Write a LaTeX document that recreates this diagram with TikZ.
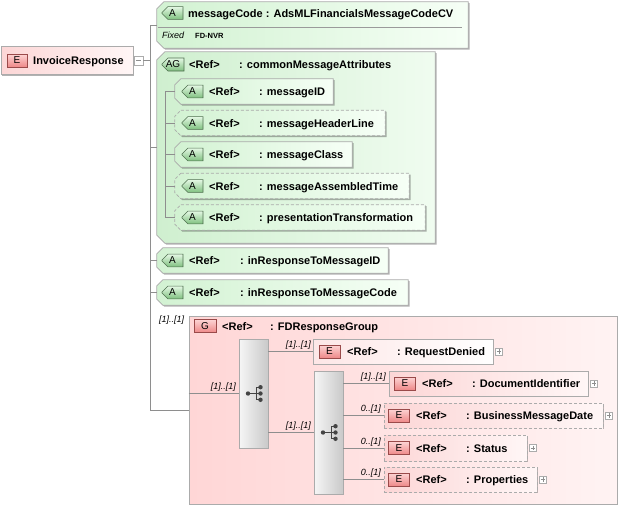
\documentclass[tikz,border=0pt]{standalone}
\usepackage{fontspec}
\setmainfont{Liberation Sans}
\usetikzlibrary{shapes.misc,shadows}
\definecolor{bordergray}{HTML}{ABABAB}
\definecolor{linegray}{HTML}{8E8E8E}
\definecolor{sepgray}{HTML}{9A9A9A}
\definecolor{attrL}{HTML}{D2F2D2}
\definecolor{attrR}{HTML}{F6FFF6}
\definecolor{agL}{HTML}{CFEFCF}
\definecolor{agR}{HTML}{F0FCF0}
\definecolor{abadgeT}{HTML}{E4F8E4}
\definecolor{abadgeD}{HTML}{7FC07F}
\definecolor{abadgeB}{HTML}{4E6E4E}
\definecolor{ebadgeT}{HTML}{FDD4D4}
\definecolor{ebadgeD}{HTML}{EE8888}
\definecolor{ebadgeB}{HTML}{9A4A4A}
\definecolor{elL}{HTML}{FCD6D6}
\definecolor{elR}{HTML}{FFF6F6}
\definecolor{grpL}{HTML}{FFD6D6}
\definecolor{grpR}{HTML}{FFF3F3}
\definecolor{seqL}{HTML}{F6F6F6}
\definecolor{seqR}{HTML}{C9C9C9}
\definecolor{icondark}{HTML}{444444}
\tikzset{
  shd/.style={drop shadow={shadow xshift=1.3pt,shadow yshift=-1.3pt,opacity=.3,fill=black}},
  attrnode/.style={rectangle, inner sep=0pt, draw=none},
  attrfill/.style={draw=bordergray, line width=0.7pt, left color=attrL, right color=attrR, shd},
  solidb/.style={},
  optbox/.style={dash pattern=on 3pt off 2pt},
  elbox/.style={rectangle, draw=bordergray, line width=0.7pt, left color=elL, right color=elR,
    inner sep=0pt, shd},
  abadge/.style={chamfered rectangle, chamfered rectangle corners={north west,south west},
    chamfered rectangle sep=3pt, draw=abadgeB, line width=0.6pt, top color=abadgeT, bottom color=abadgeD,
    inner sep=0pt, minimum height=12pt, font=\fontsize{10}{10}\selectfont},
  ebadge/.style={rectangle, draw=ebadgeB, line width=0.6pt, top color=ebadgeT, bottom color=ebadgeD,
    inner sep=0pt, minimum height=13pt, font=\fontsize{10}{10}\selectfont},
  lbl/.style={font=\bfseries\fontsize{11}{12}\selectfont, anchor=base west, inner sep=0pt},
  card/.style={font=\itshape\fontsize{9}{10}\selectfont, anchor=south east, inner sep=0pt},
  conn/.style={draw=linegray, line width=0.8pt},
  seqbox/.style={rectangle, draw=bordergray, line width=0.7pt, left color=seqL, right color=seqR,
    inner sep=0pt, minimum width=29pt, shd},
  plusbox/.style={rectangle, draw=bordergray, fill=white, minimum size=7pt, inner sep=0pt,
    path picture={\draw[linegray,line width=0.5pt]
      ([xshift=1.4pt]path picture bounding box.west) -- ([xshift=-1.4pt]path picture bounding box.east)
      ([yshift=-1.4pt]path picture bounding box.north) -- ([yshift=1.4pt]path picture bounding box.south);}},
  minusbox/.style={rectangle, draw=bordergray, fill=white, minimum size=9pt, inner sep=0pt,
    path picture={\draw[linegray,line width=0.5pt]
      ([xshift=1.8pt]path picture bounding box.west) -- ([xshift=-1.8pt]path picture bounding box.east);}},
  seqicon/.pic={
    \draw[icondark,line width=1pt] (-5.5,0) -- (3,0) (3,-6.3) -- (3,6.3)
      (3,-6.3) -- (7,-6.3) (3,6.3) -- (7,6.3) (3,0) -- (7,0);
    \fill[icondark] (-5.5,0) circle (2.2) (7,-6.3) circle (2.2) (7,0) circle (2.2) (7,6.3) circle (2.2);
  }
}
% chamfered outline drawn round a named (invisible) node
\newcommand\attrshape[3]{%
  \path[attrfill,#3] ([xshift=#2]#1.north west) -- (#1.north east) -- (#1.south east)
    -- ([xshift=#2]#1.south west) -- ([yshift=#2]#1.south west) -- ([yshift=-#2]#1.north west) -- cycle;}
\begin{document}
\begin{tikzpicture}[x=1pt,y=-1pt]
\useasboundingbox[fill=white] (0,0) rectangle (624,512);

% root element
\node[elbox, minimum width=132pt, minimum height=28pt] (ir) at (67,60.5) {};
\node[ebadge, minimum width=20pt] (irb) at (17,60.5) {E};
\node[lbl] (irt) at (33,64.5) {InvoiceResponse};
\node[minusbox] (irm) at (138.5,60.5) {};

% main spine
\coordinate (sptop) at (150,25);
\coordinate (spbot) at (150,410);
\draw[conn] (sptop) -- (spbot);
\draw[conn] (irm.east) -- (irm.east -| sptop);

% messageCode attribute
\node[attrnode, minimum width=311pt, minimum height=46pt] (mc) at (312.5,25) {};
\attrshape{mc}{7pt}{}
\node[abadge, minimum width=21pt] (mcb) at (172.5,13) {A};
\node[lbl] (mct) at (188,17) {messageCode : AdsMLFinancialsMessageCodeCV};
\coordinate (mcs1) at (158,27.5);
\coordinate (mcs2) at (462,27.5);
\draw[sepgray, line width=0.6pt] (mcs1) -- (mcs2);
\node[font=\itshape\fontsize{9}{10}\selectfont, anchor=base west, inner sep=0pt] (fx) at (162,38) {Fixed};
\node[font=\bfseries\fontsize{7.5}{9}\selectfont, anchor=base west, inner sep=0pt] (fxv) at (195,38) {FD-NVR};
\draw[conn] (sptop) -- (mc.west);

% attribute group
\node[attrnode, minimum width=278pt, minimum height=191pt] (ag) at (296,147.5) {};
\attrshape{ag}{8pt}{left color=agL, right color=agR}
\node[abadge, minimum width=22pt, minimum height=13pt] (agb) at (173,64.5) {AG};
\node[lbl] (agr) at (189,68.5) {<Ref>};
\node[lbl] (agn) at (239,68.5) {: commonMessageAttributes};
\draw[conn] (sptop |- ag.west) -- (ag.west);

\coordinate (agsp1) at (165,91.5);
\coordinate (agsp2) at (165,217.5);
\draw[conn] (agsp1) -- (agsp2);
\foreach \i/\cy/\w/\txt/\st in {1/91.5/158/messageID/solidb,
    2/123/210/messageHeaderLine/optbox,
    3/154.5/177/messageClass/solidb,
    4/186/234/messageAssembledTime/optbox,
    5/217.5/250/presentationTransformation/optbox}{
  \node[attrnode, minimum width=\w pt, minimum height=25pt] (c\i) at ({175+\w/2},\cy) {};
  \attrshape{c\i}{6pt}{\st}
  \node[abadge, minimum width=21pt] (cb\i) at (192.5,\cy) {A};
  \node[lbl] (cr\i) at (209,\cy+4) {<Ref>};
  \node[lbl] (cn\i) at (259,\cy+4) {: \txt};
  \draw[conn] (agsp1 |- c\i.west) -- (c\i.west);
}

% inResponseTo attributes
\node[attrnode, minimum width=231pt, minimum height=25pt] (ra) at (272.5,260.5) {};
\attrshape{ra}{6pt}{}
\node[abadge, minimum width=21pt] (rab) at (172.5,260.5) {A};
\node[lbl] (rar) at (189,264.5) {<Ref>};
\node[lbl] (ran) at (240,264.5) {: inResponseToMessageID};
\draw[conn] (sptop |- ra.west) -- (ra.west);

\node[attrnode, minimum width=251pt, minimum height=25pt] (rb) at (282.5,292.5) {};
\attrshape{rb}{6pt}{}
\node[abadge, minimum width=21pt] (rbb) at (172.5,292.5) {A};
\node[lbl] (rbr) at (189,296.5) {<Ref>};
\node[lbl] (rbn) at (240,296.5) {: inResponseToMessageCode};
\draw[conn] (sptop |- rb.west) -- (rb.west);

% group
\node[elbox, left color=grpL, right color=grpR, minimum width=428pt, minimum height=188pt] (grp) at (403,410) {};
\node[ebadge, minimum width=22pt] (grpb) at (205,326) {G};
\node[lbl] (grpr) at (222,330) {<Ref>};
\node[lbl] (grpn) at (270,330) {: FDResponseGroup};
\node[card, anchor=west] (grpc) at (159,320) {[1]..[1]};
\draw[conn] (spbot) -- (grp.west);

% sequence 1
\node[seqbox, minimum height=109pt] (sq1) at (253.5,393.5) {};
\pic (ic1) at (sq1) {seqicon};
\draw[conn] (grp.west |- sq1) -- (sq1.west);
\node[card] (l0) at (236,392) {[1]..[1]};

% RequestDenied
\node[elbox, left color=elL!60!white, right color=white, minimum width=180pt, minimum height=25pt] (rd) at (403,351.5) {};
\node[ebadge, minimum width=21pt] (rdb) at (329.5,351.5) {E};
\node[lbl] (rdr) at (347,355.5) {<Ref>};
\node[lbl] (rdn) at (397,355.5) {: RequestDenied};
\node[plusbox] (rdp) at ([xshift=5.5pt]rd.east) {};
\draw[conn] (sq1.east |- rd) -- (rd.west);
\node[card] (l1) at (311,350) {[1]..[1]};

% sequence 2
\node[seqbox, minimum height=123pt] (sq2) at (328.5,432.5) {};
\pic (ic2) at (sq2) {seqicon};
\draw[conn] (sq1.east |- sq2) -- (sq2.west);
\node[card] (l2) at (311,431) {[1]..[1]};

% DocumentIdentifier
\node[elbox, minimum width=199pt, minimum height=25pt] (di) at (488.5,383.5) {};
\node[ebadge, minimum width=21pt] (dib) at (405,383.5) {E};
\node[lbl] (dir) at (422,387.5) {<Ref>};
\node[lbl] (din) at (472,387.5) {: DocumentIdentifier};
\node[plusbox] (dip) at ([xshift=5.5pt]di.east) {};
\draw[conn] (sq2.east |- di) -- (di.west);
\node[card] (l3) at (386,382) {[1]..[1]};

% BusinessMessageDate
\node[elbox, optbox, minimum width=219pt, minimum height=25pt] (bm) at (493.5,415.5) {};
\node[ebadge, minimum width=21pt] (bmb) at (399,415.5) {E};
\node[lbl] (bmr) at (416,419.5) {<Ref>};
\node[lbl] (bmn) at (466,419.5) {: BusinessMessageDate};
\node[plusbox] (bmp) at ([xshift=5.5pt]bm.east) {};
\draw[conn] (sq2.east |- bm) -- (bm.west);
\node[card] (l4) at (381,414) {0..[1]};

% Status
\node[elbox, optbox, minimum width=143pt, minimum height=26pt] (st) at (455.5,448) {};
\node[ebadge, minimum width=21pt] (stb) at (399,448) {E};
\node[lbl] (str) at (416,452) {<Ref>};
\node[lbl] (stn) at (466,452) {: Status};
\node[plusbox] (stp) at ([xshift=5.5pt]st.east) {};
\draw[conn] (sq2.east |- st) -- (st.west);
\node[card] (l5) at (381,446.5) {0..[1]};

% Properties
\node[elbox, optbox, minimum width=153pt, minimum height=25pt] (pr) at (460.5,479.5) {};
\node[ebadge, minimum width=21pt] (prb) at (399,479.5) {E};
\node[lbl] (prr) at (416,483.5) {<Ref>};
\node[lbl] (prn) at (466,483.5) {: Properties};
\node[plusbox] (prp) at ([xshift=5.5pt]pr.east) {};
\draw[conn] (sq2.east |- pr) -- (pr.west);
\node[card] (l6) at (381,478) {0..[1]};
\end{tikzpicture}
\end{document}
